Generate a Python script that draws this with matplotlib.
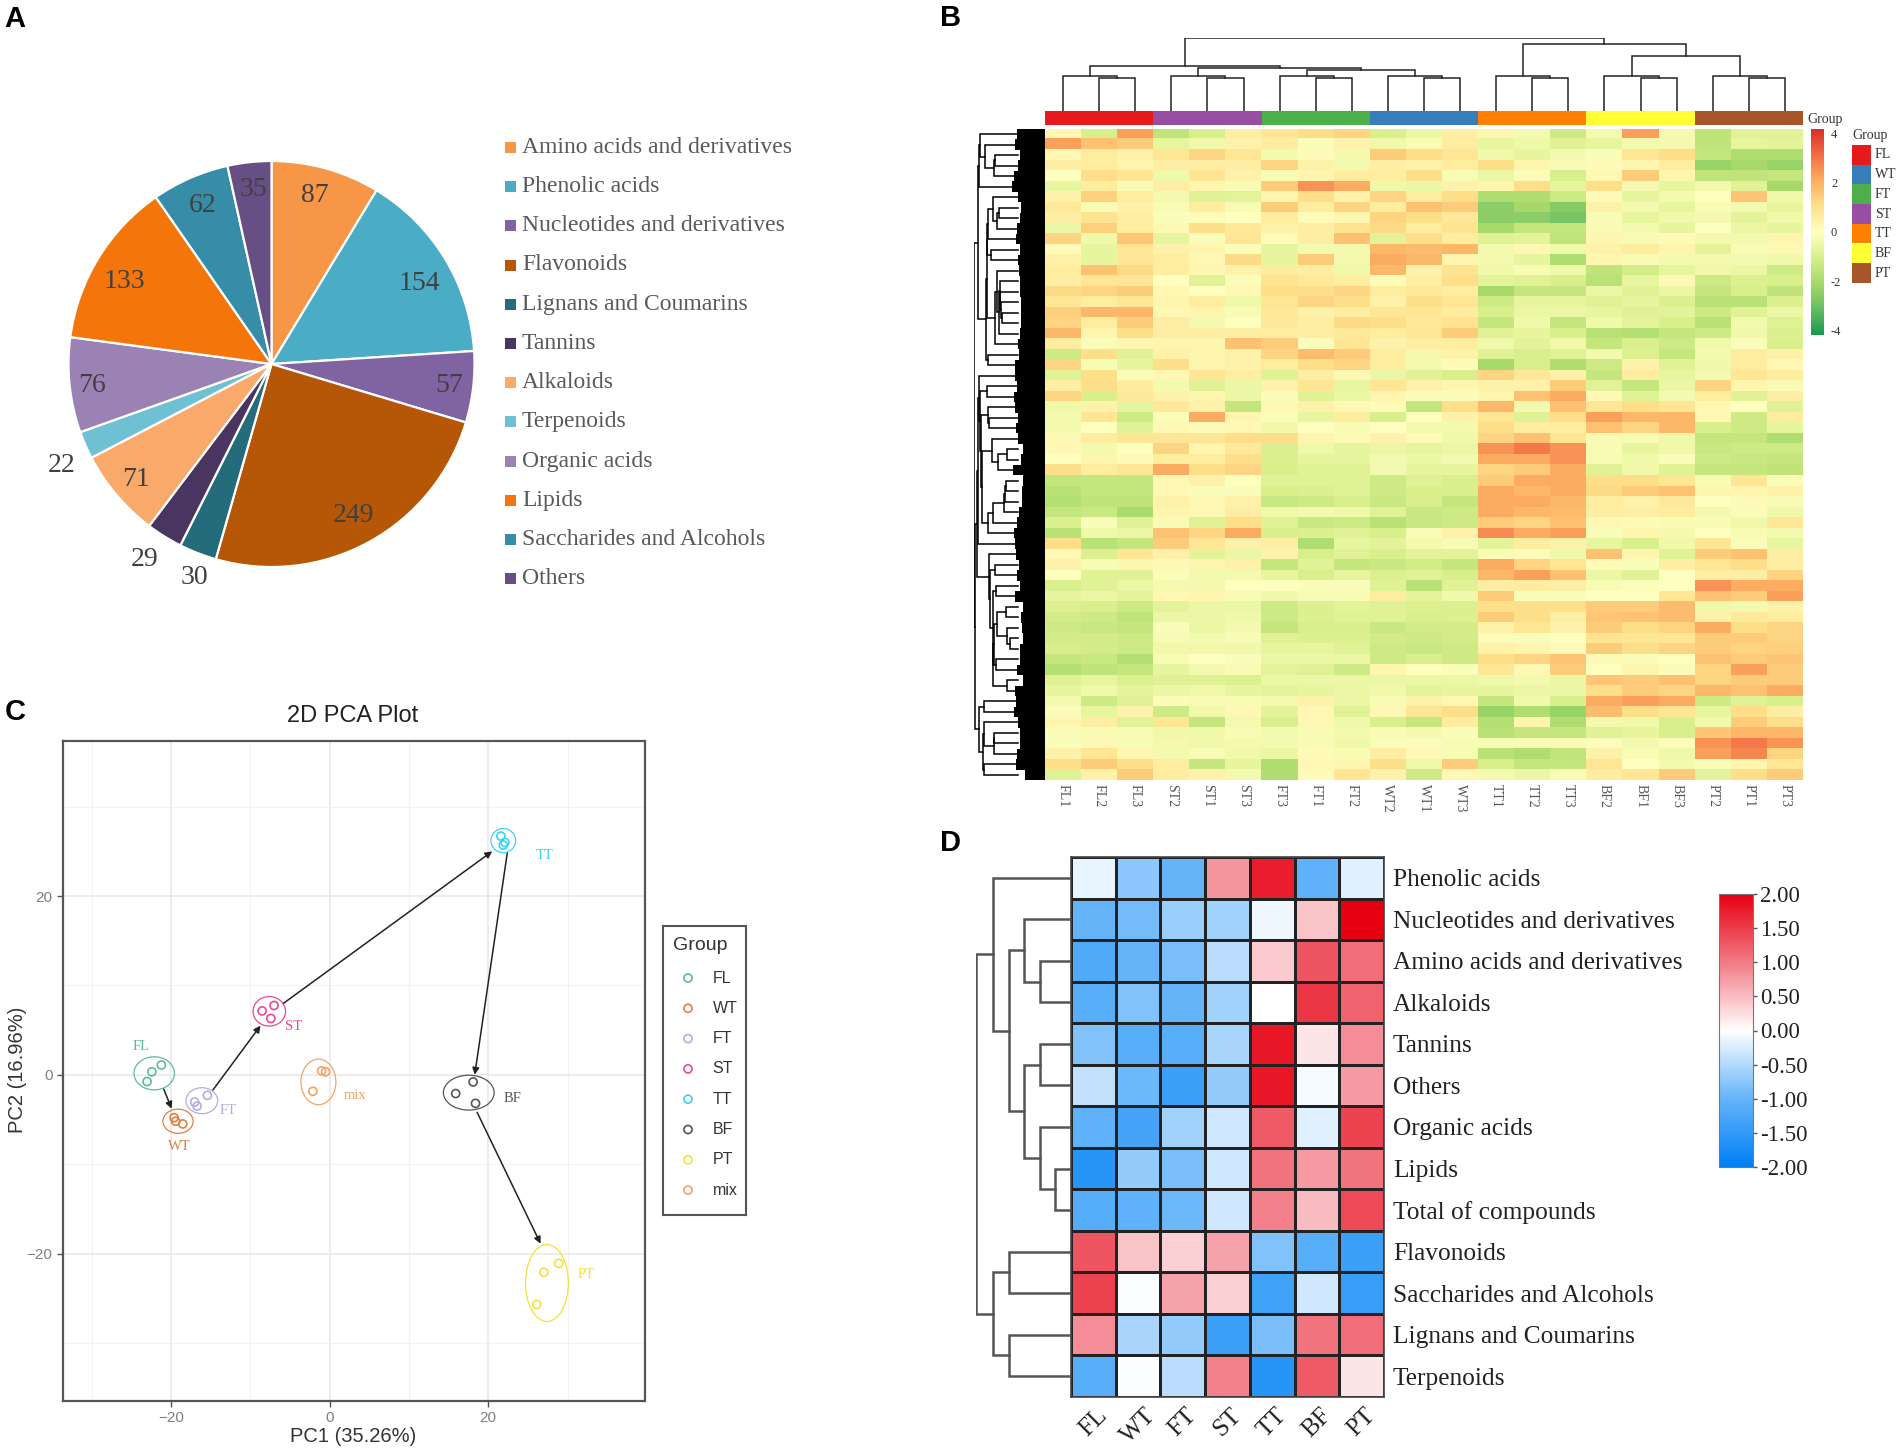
import numpy as np
import matplotlib
matplotlib.use("Agg")
import matplotlib.pyplot as plt
from matplotlib.colors import LinearSegmentedColormap, Normalize
from matplotlib.patches import Ellipse, Rectangle
from matplotlib.cm import ScalarMappable

W, H = 1904, 1455
SERIF = "Liberation Serif"
SANS = "Liberation Sans"

# ---------- Panel A ----------
pie_labels = ["Amino acids and derivatives", "Phenolic acids", "Nucleotides and derivatives",
              "Flavonoids", "Lignans and Coumarins", "Tannins", "Alkaloids", "Terpenoids",
              "Organic acids", "Lipids", "Saccharides and Alcohols", "Others"]
pie_values = [87, 154, 57, 249, 30, 29, 71, 22, 76, 133, 62, 35]
pie_colors = ["#F79646", "#4BACC6", "#8064A2", "#B65708", "#246B7B", "#4A3560",
              "#F9A96A", "#6FC0D2", "#9B82B5", "#F4760A", "#378DA8", "#674F85"]
pie_text_x = [315, 419, 449, 354, 194, 145, 136, 62, 92, 124, 203, 253]
pie_text_y = [196, 283, 385, 515, 578, 559, 479, 465, 385, 282, 205, 189]

# ---------- Panel B ----------
col_labels = ["FL1", "FL2", "FL3", "ST2", "ST1", "ST3", "FT3", "FT1", "FT2", "WT2", "WT1", "WT3",
              "TT1", "TT2", "TT3", "BF2", "BF1", "BF3", "PT2", "PT1", "PT3"]
group_names = ["FL", "WT", "FT", "ST", "TT", "BF", "PT"]
group_colors = ["#E41A1C", "#377EB8", "#4DAF4A", "#984EA3", "#FF7F00", "#FFFF33", "#A65628"]
col_order_groups = ["FL", "ST", "FT", "WT", "TT", "BF", "PT"]
heat_colors = ["#1a9850", "#66bd63", "#a6d96a", "#d9ef8b", "#ffffbf",
               "#fee08b", "#fdae61", "#f46d43", "#d73027"]
# Values, in tenths of the colour-key unit.
heat_tenths = [
 [2,-10,22,-15,-10,5,8,10,12,-10,-5,5,3,-3,-12,-3,22,-3,-15,-8,-8],
 [22,16,14,-6,-4,4,6,-1,4,-4,-2,6,-6,-4,-8,-6,-3,-3,-15,-6,-7],
 [2,6,4,8,12,8,-3,1,-3,14,10,8,-4,-6,-3,-1,8,10,-14,-18,-18],
 [5,6,3,5,5,5,12,4,-3,5,4,6,10,3,-2,1,3,6,-22,-20,-22],
 [0,10,8,-4,8,4,-2,3,6,6,10,-2,-5,1,-10,2,14,3,-15,-15,-14],
 [-6,6,-2,5,3,-2,14,24,20,-4,-5,4,3,10,-6,10,-3,-6,-3,-8,-20],
 [4,13,6,-3,-8,-7,3,10,4,12,6,10,-18,-18,-12,1,-6,-3,0,15,-4],
 [7,-2,4,-2,6,-2,14,6,12,6,16,14,-24,-20,-25,4,-3,-6,-2,-3,-6],
 [5,9,5,-1,1,0,6,1,3,12,10,7,-24,-24,-27,-2,-6,-4,-3,-7,-4],
 [-5,13,6,2,10,7,4,5,9,11,6,9,-20,-14,-14,-2,-3,-6,0,-5,-6],
 [12,-4,15,-6,-1,8,1,5,16,-7,10,6,-8,-7,-15,3,-2,1,-3,-3,3],
 [1,-6,8,4,3,-1,-6,-3,-3,18,17,18,-3,2,-4,4,6,3,-7,-2,2],
 [4,-6,8,6,2,11,-6,14,-3,20,18,3,-3,-6,-18,3,-2,-3,-3,-3,-4],
 [6,16,11,6,3,4,6,5,-4,18,4,9,-4,-2,-4,-15,-11,-6,-4,-5,-12],
 [5,8,8,0,-8,-1,9,7,6,1,5,10,-7,-8,-10,-16,-6,2,-12,-9,-10],
 [11,12,14,2,0,2,10,10,12,6,7,6,-20,-14,-14,-5,-8,-5,-14,-10,-15],
 [8,6,8,3,6,-4,8,12,10,4,10,8,-12,-6,-6,-8,-6,-9,-16,-16,-9],
 [13,18,18,2,3,-2,7,4,5,8,8,6,-10,-5,-5,-6,-8,-7,-12,-8,-5],
 [12,6,14,5,-3,0,7,5,11,10,7,9,-14,-4,-14,-4,-7,-10,-16,-3,-8],
 [18,3,10,5,5,5,6,5,7,6,8,14,-8,-6,-10,-16,-17,-14,-12,-4,-9],
 [6,-1,3,3,3,16,14,-1,8,4,5,6,-4,-7,-4,-14,-10,-12,-4,-1,-10],
 [-12,10,-8,4,3,4,12,17,14,6,-3,4,-8,-10,-8,-3,-9,-14,-3,6,4],
 [12,-2,-6,10,3,4,6,10,12,6,-3,1,-20,-10,-18,-12,4,-8,-4,6,2],
 [-8,10,-1,2,8,5,-8,5,2,-5,-8,-10,12,7,4,-14,6,-6,-3,8,6],
 [5,10,6,-3,-8,-5,4,8,-6,8,4,3,4,4,14,-8,-14,-5,12,3,-2],
 [12,-10,7,4,3,-5,-1,-8,-5,3,-1,-1,3,16,20,2,-8,-3,6,-8,5],
 [-4,4,-6,7,4,-14,2,4,2,1,-14,10,18,-3,16,8,10,8,2,0,-8],
 [-3,8,-12,-1,20,3,-1,-6,6,-10,0,4,8,-8,10,22,18,18,2,-12,6],
 [-3,0,-8,2,1,2,-4,0,-2,0,-3,-3,10,6,6,16,12,18,-10,-12,-6],
 [2,6,8,8,8,10,10,3,1,4,1,-4,12,16,8,-2,-2,-4,-14,-14,-18],
 [2,-3,0,12,3,7,-9,-4,-6,-5,-6,-5,24,28,24,-2,-6,-4,-13,-12,-12],
 [0,3,1,6,6,10,-9,-6,-6,-3,-5,-3,20,20,24,-2,-4,-1,-12,-13,-14],
 [10,6,8,20,10,12,-10,-8,-8,-3,-6,-6,12,14,20,-8,-4,-8,-14,-14,-15],
 [-14,-14,-14,2,4,0,-8,-8,-8,-12,-8,-10,14,20,20,10,10,8,-2,8,-1],
 [-16,-14,-14,2,-1,-1,-10,-9,-8,-12,-10,-10,20,18,20,11,14,16,3,3,4],
 [-17,-15,-15,4,2,4,-13,-12,-10,-13,-10,-14,20,20,18,6,4,7,0,1,-2],
 [-14,-13,-19,3,2,5,-4,-3,-4,-8,-13,-12,20,18,17,5,5,6,-3,-1,-4],
 [-9,-1,-8,-2,-8,10,-8,-13,-12,-16,-13,-12,14,12,16,2,1,-2,-2,-4,8],
 [-16,-4,-5,16,12,20,-10,-9,-8,-10,-1,4,25,20,22,-1,3,-3,0,-2,-3],
 [10,-16,-14,14,8,4,5,-18,-6,-7,-3,-2,-7,6,4,-6,-10,-4,8,-1,-6],
 [2,-9,8,4,-7,-5,4,-10,-8,-10,-7,-7,-2,1,-4,16,3,-8,14,16,5],
 [4,-2,3,2,3,4,-14,-8,-14,-13,-11,-14,20,12,8,1,-1,5,8,10,5],
 [0,-8,-8,-1,-3,-3,-6,-10,-6,-9,-8,-10,18,22,16,-5,-8,0,5,5,12],
 [-10,-8,-5,-3,-3,0,0,-1,-1,-8,-16,-8,5,6,5,-2,-1,0,24,20,20],
 [-6,-5,-7,2,3,-2,-4,-2,-2,6,-7,-4,14,-1,-1,0,0,8,16,14,22],
 [-9,-10,-12,-7,-5,-5,-12,-9,-7,-8,-9,-9,10,10,10,14,14,17,-4,-3,4],
 [-11,-12,-15,-5,-5,-4,-12,-9,-8,-8,-10,-9,14,10,5,15,16,17,4,7,6],
 [-12,-13,-14,-1,-5,-3,-14,-10,-10,-13,-11,-11,4,8,4,14,10,12,20,10,12],
 [-11,-11,-12,-2,-3,-2,-8,-9,-9,-11,-12,-11,1,-1,0,9,8,8,14,14,12],
 [-10,-11,-12,-4,-4,-4,-6,-6,-8,-12,-13,-12,4,3,1,14,10,12,14,12,13],
 [-14,-13,-17,-2,0,-1,-5,-5,-5,-12,-10,-12,10,12,15,1,-1,0,16,14,15],
 [-17,-15,-14,-6,-3,-2,-7,-8,-12,3,0,-1,8,2,14,0,3,-1,12,22,14],
 [-8,-6,-9,-8,-8,-9,-5,-5,-5,-5,-5,-5,-4,-3,-5,15,14,16,12,14,14],
 [-6,-4,-7,-5,-4,-6,-7,-6,-5,-4,-7,-6,-6,-5,-5,10,14,12,18,16,20],
 [-3,-12,-8,1,-2,-2,-3,4,-5,-2,4,2,-14,-4,-10,20,22,20,-12,-8,-10],
 [-1,-6,4,-12,-4,2,-7,2,-8,2,8,10,-22,-18,-22,17,10,8,-6,10,5],
 [3,5,-8,8,-14,-3,-10,2,-4,-10,-14,6,-17,3,-18,-3,-4,-10,-4,14,10],
 [-1,-2,-2,-4,-4,-2,-3,-2,-3,-2,-3,-1,-16,-14,-14,-8,-6,-10,15,18,18],
 [-1,2,-2,-3,-4,-3,-3,-2,-4,-1,-1,-2,-2,-2,-2,-1,-3,-1,24,28,24],
 [4,8,3,-3,-2,-4,-5,1,-2,5,2,-2,-16,-18,-15,4,-2,-4,22,26,12],
 [10,14,10,6,-14,-6,-18,2,3,10,-4,14,-10,-14,-14,8,0,-3,-1,3,8],
 [-8,4,14,6,4,-3,-18,1,8,4,-12,2,-3,-5,-2,6,8,14,-7,10,14],
]
# Column tree: (merge height, child, child); integers are leaf positions.
top_tree = (218,
            (135, (105, 0, (100, 1, 2)),
             (130, (105, 3, (100, 4, 5)),
              (123, (105, 6, (100, 7, 8)), (105, 9, (100, 10, 11))))),
            (201, (105, 12, (100, 13, 14)),
             (165, (105, 15, (100, 16, 17)), (105, 18, (100, 19, 20)))))

# ---------- Panel C ----------
pca_groups = ["FL", "WT", "FT", "ST", "TT", "BF", "PT", "mix"]
pca_colors = ["#5dbb9b", "#e0803f", "#b3aedb", "#e8489a", "#3fd0f0", "#555555", "#f5e03c", "#f4a266"]
pca_x = [[-23.0, -22.4, -21.2], [-19.6, -19.4, -18.5], [-17.0, -16.7, -15.4], [-8.5, -7.0, -7.4],
         [21.6, 22.1, 21.9], [15.9, 18.1, 18.4], [28.9, 27.0, 26.1], [-2.1, -1.0, -0.5]]
pca_y = [[-0.76, 0.33, 1.09], [-4.8, -5.2, -5.5], [-3.05, -3.5, -2.3], [7.15, 7.75, 6.3],
         [26.7, 26.0, 25.7], [-2.1, -0.8, -3.2], [-21.1, -22.1, -25.7], [-1.85, 0.44, 0.33]]
ell_cx = [-22.1, -19.1, -16.1, -7.6, 21.9, 17.55, 27.4, -1.4]
ell_cy = [0.16, -5.2, -2.9, 7.1, 26.2, -2.0, -23.3, -0.8]
ell_w = [5.1, 3.8, 4.0, 4.1, 3.1, 6.4, 5.4, 4.4]
ell_h = [3.7, 2.7, 2.9, 3.3, 2.7, 3.9, 8.6, 5.1]
lab_x = [-23.7, -19.0, -12.8, -4.5, 27.1, 23.1, 32.4, 3.2]
lab_y = [3.2, -8.0, -4.0, 5.4, 24.5, -2.7, -22.4, -2.3]
arrow_from = [(-20.9, -1.6), (-14.7, -1.7), (-5.8, 8.0), (22.4, 24.8), (18.6, -4.2)]
arrow_to = [(-19.9, -3.8), (-8.7, 5.5), (20.5, 25.0), (18.3, 0.0), (26.6, -18.9)]

# ---------- Panel D ----------
d_rows = ["Phenolic acids", "Nucleotides and derivatives", "Amino acids and derivatives", "Alkaloids",
          "Tannins", "Others", "Organic acids", "Lipids", "Total of compounds", "Flavonoids",
          "Saccharides and Alcohols", "Lignans and Coumarins", "Terpenoids"]
d_cols = ["FL", "WT", "FT", "ST", "TT", "BF", "PT"]
d_vals = [[-0.15, -0.75, -1.0, 0.8, 1.75, -1.05, -0.2],
          [-1.0, -0.9, -0.65, -0.6, -0.1, 0.45, 2.0],
          [-1.2, -1.0, -0.85, -0.45, 0.4, 1.3, 1.1],
          [-1.1, -0.8, -1.0, -0.6, 0.0, 1.55, 1.2],
          [-0.8, -1.1, -1.1, -0.55, 1.8, 0.2, 0.85],
          [-0.4, -0.95, -1.4, -0.7, 1.8, -0.05, 0.75],
          [-1.05, -1.3, -0.6, -0.3, 1.25, -0.2, 1.45],
          [-1.6, -0.7, -0.85, -0.3, 1.05, 0.75, 1.05],
          [-1.15, -1.05, -0.95, -0.3, 0.95, 0.5, 1.4],
          [1.3, 0.45, 0.35, 0.7, -0.8, -1.1, -1.4],
          [1.45, -0.02, 0.7, 0.35, -1.35, -0.3, -1.45],
          [0.85, -0.55, -0.7, -1.4, -0.85, 1.05, 1.1],
          [-1.1, -0.03, -0.45, 0.95, -1.6, 1.25, 0.2]]
d_tree = (152,
          (125, 0,
           (100,
            (75, 1, (50, 2, 3)),
            (75, (50, 4, 5), (50, 6, (25, 7, 8))))),
          (125, (100, 9, 10), (100, 11, 12)))


def ax_px(x0, y0, x1, y1, **kw):
    return fig.add_axes([x0 / W, 1 - y1 / H, (x1 - x0) / W, (y1 - y0) / H], **kw)


def tree_segments(node):
    """Return (position, height, segments) for a nested (height, left, right) tree."""
    if not isinstance(node, tuple):
        return node + 0.5, 0.0, []
    h, a, b = node
    pa, ha, sa = tree_segments(a)
    pb, hb, sb = tree_segments(b)
    seg = [[(pa, ha), (pa, h), (pb, h), (pb, hb)]]
    return (pa + pb) / 2, h, sa + sb + seg


fig = plt.figure(figsize=(W / 100, H / 100), dpi=100, facecolor="white")
over = fig.add_axes([0, 0, 1, 1], zorder=20)
over.set_xlim(0, W)
over.set_ylim(H, 0)
over.axis("off")
over.patch.set_alpha(0)

for letter, x, y in [("A", 4, 19), ("B", 940, 18), ("C", 5, 712), ("D", 940, 843)]:
    over.text(x, y, letter, family=SANS, weight="bold", fontsize=21, color="black", ha="left", va="center")

# ---------- A: pie ----------
r = 203
ax = ax_px(271.5 - r, 364 - r, 271.5 + r, 364 + r)
ax.pie(pie_values, colors=pie_colors, startangle=90, counterclock=False, radius=1,
       wedgeprops=dict(edgecolor="white", linewidth=1.6))
ax.set_xlim(-1, 1)
ax.set_ylim(-1, 1)
for v, x, y in zip(pie_values, pie_text_x, pie_text_y):
    over.text(x, y, str(v), family=SERIF, fontsize=20, color="#404040", ha="center", va="center")
for i, (name, c) in enumerate(zip(pie_labels, pie_colors)):
    y = 147.4 + i * 39.2
    over.add_patch(Rectangle((505, y - 5.5), 11, 11, facecolor=c, edgecolor="none"))
    over.text(522, y, name, family=SERIF, fontsize=17, color="#595959", ha="left", va="center")

# ---------- B: heatmap ----------
hm_x0, hm_x1, hm_y0, hm_y1 = 1045, 1803, 129, 780
heat = np.array(heat_tenths) / 10
cmap_b = LinearSegmentedColormap.from_list("b", heat_colors)
ax = ax_px(hm_x0, hm_y0, hm_x1, hm_y1)
ax.imshow(heat, aspect="auto", cmap=cmap_b, vmin=-4, vmax=4, interpolation="nearest")
ax.set_yticks([])
ax.set_xticks(range(21))
ax.set_xticklabels(col_labels, rotation=270, family=SERIF, fontsize=10, color="#555555")
ax.tick_params(axis="x", length=0, pad=3)
for s in ax.spines.values():
    s.set_visible(False)

# annotation strip
ax = ax_px(hm_x0, 111, hm_x1, 125)
ax.set_xlim(0, 7)
ax.set_ylim(0, 1)
ax.axis("off")
for i, g in enumerate(col_order_groups):
    ax.add_patch(Rectangle((i, 0), 1, 1, facecolor=group_colors[group_names.index(g)], edgecolor="none"))
over.text(1807, 119, "Group", family=SERIF, fontsize=10, color="#333333", ha="left", va="center")

# top dendrogram
ax = ax_px(hm_x0, 38, hm_x1, 111)
_, _, segs = tree_segments(top_tree)
for s in segs:
    ax.plot([p[0] for p in s], [p[1] for p in s], color="#222222", lw=1.1, solid_joinstyle="miter")
ax.set_xlim(0, 21)
ax.set_ylim(0, 218 * 1.005)
ax.axis("off")

# left dendrogram: adjacent rows are merged by their distance in the heatmap values
ax = ax_px(974, hm_y0, hm_x0, hm_y1)
n = heat.shape[0]
clusters = [dict(pos=i + 0.5, h=0.0, m=heat[i], k=1) for i in range(n)]
left_segs = []
while len(clusters) > 1:
    d = [np.linalg.norm(clusters[i]["m"] - clusters[i + 1]["m"]) for i in range(len(clusters) - 1)]
    j = int(np.argmin(d))
    a, b = clusters[j], clusters[j + 1]
    h = max(d[j], a["h"] * 1.03, b["h"] * 1.03)
    left_segs.append((a["pos"], a["h"], b["pos"], b["h"], h))
    k = a["k"] + b["k"]
    clusters[j:j + 2] = [dict(pos=(a["pos"] + b["pos"]) / 2, h=h, m=(a["m"] * a["k"] + b["m"] * b["k"]) / k, k=k)]
hmax = clusters[0]["h"]
for pa, ha, pb, hb, h in left_segs:
    ax.plot([ha / hmax, h / hmax, h / hmax, hb / hmax], [pa, pa, pb, pb], color="black", lw=1.1,
            solid_joinstyle="miter")
ax.set_xlim(1.0, -0.6)
ax.set_ylim(n, 0)
ax.axis("off")
# Solid mass of leaf branches; its jagged edge follows how far each row stands from the next one.
row_gap = np.abs(np.diff(heat, axis=0, append=heat[-1:])).mean(axis=1)
edge = 0.30 * row_gap / row_gap.max() - 0.16
ax.fill_betweenx(np.arange(n + 1), np.append(edge, edge[-1]), -0.6, step="post", color="black", lw=0)

# colour key
ax = ax_px(1811, 129, 1824, 335)
fig.colorbar(ScalarMappable(Normalize(-4.18, 4.18), cmap_b), cax=ax, ticks=[-4, -2, 0, 2, 4])
ax.tick_params(length=0, pad=5, labelsize=9, labelcolor="#333333")
ax.set_yticklabels(["-4", "-2", "0", "2", "4"], family=SERIF)
ax.spines["outline"].set_visible(False)

# group key
over.text(1870, 136, "Group", family=SERIF, fontsize=10, color="#333333", ha="center", va="center")
for i, (g, c) in enumerate(zip(group_names, group_colors)):
    y = 145 + i * 19.7
    over.add_patch(Rectangle((1852, y), 19, 19.7, facecolor=c, edgecolor="none"))
    over.text(1875, y + 10, g, family=SERIF, fontsize=10, color="#333333", ha="left", va="center")

# ---------- C: PCA ----------
ax = ax_px(63, 740.5, 644.5, 1401)
ax.set_xlim(-33.6, 39.7)
ax.set_ylim(-36.5, 37.4)
ax.set_xticks([-20, 0, 20])
ax.set_yticks([-20, 0, 20])
ax.set_xticks([-30, -10, 10, 30], minor=True)
ax.set_yticks([-30, -10, 10, 30], minor=True)
ax.grid(True, which="major", color="#ebebeb", lw=1.3)
ax.grid(True, which="minor", color="#f2f2f2", lw=0.8)
ax.set_axisbelow(True)
ax.tick_params(which="major", length=4, color="#555555", labelsize=11, labelcolor="#7f7f7f", width=1)
ax.tick_params(which="minor", length=0)
for s in ax.spines.values():
    s.set_color("#555555")
    s.set_linewidth(1.6)
for t in ax.get_xticklabels() + ax.get_yticklabels():
    t.set_family(SANS)
for i, g in enumerate(pca_groups):
    c = pca_colors[i]
    ax.scatter(pca_x[i], pca_y[i], s=34, facecolor="none", edgecolor=c, linewidth=1.2, zorder=3)
    ax.add_patch(Ellipse((ell_cx[i], ell_cy[i]), ell_w[i], ell_h[i], facecolor="none", edgecolor=c, lw=0.9, zorder=3))
    ax.text(lab_x[i], lab_y[i], g, family=SERIF, fontsize=10.5, color=c, ha="center", va="center")
for a, b in zip(arrow_from, arrow_to):
    ax.annotate("", xy=b, xytext=a,
                arrowprops=dict(arrowstyle="-|>", color="#222222", lw=1.1, mutation_scale=10, shrinkA=0, shrinkB=0))
over.text(353, 716, "2D PCA Plot", family=SANS, fontsize=17, color="#222222", ha="center", va="center")
over.text(353, 1436, "PC1 (35.26%)", family=SANS, fontsize=14.5, color="#333333", ha="center", va="center")
over.text(18, 1070, "PC2 (16.96%)", family=SANS, fontsize=14.5, color="#333333", rotation=90, ha="center", va="center")

# legend box
lg = ax_px(663, 926, 746, 1215)
lg.set_xlim(663, 746)
lg.set_ylim(1215, 926)
lg.set_xticks([])
lg.set_yticks([])
for s in lg.spines.values():
    s.set_color("#555555")
    s.set_linewidth(1.5)
lg.text(673, 945, "Group", family=SANS, fontsize=14, color="#333333", ha="left", va="center")
for i, (g, c) in enumerate(zip(pca_groups, pca_colors)):
    y = 978 + i * 30.3
    lg.scatter([688], [y], s=34, facecolor="none", edgecolor=c, linewidth=1.2)
    lg.text(712.5, y, g, family=SANS, fontsize=11.5, color="#333333", ha="left", va="center")

# ---------- D: heatmap ----------
cmap_d = LinearSegmentedColormap.from_list(
    "d", [(0, "#0080f5"), (0.25, "#64b4fa"), (0.5, "#ffffff"), (0.75, "#f27a85"), (1, "#e60012")])
ax = ax_px(1071, 857, 1384, 1397)
vals = np.array(d_vals)
ax.pcolormesh(vals, cmap=cmap_d, vmin=-2, vmax=2, edgecolors="#222222", linewidth=0.8)
ax.set_ylim(13, 0)
ax.set_xlim(0, 7)
ax.yaxis.tick_right()
ax.set_yticks(np.arange(13) + 0.5)
ax.set_yticklabels(d_rows, family=SERIF, fontsize=18.3, color="#222222")
ax.set_xticks(np.arange(7) + 0.5)
ax.set_xticklabels(d_cols, family=SERIF, fontsize=18, color="#222222", rotation=45, ha="center")
ax.tick_params(length=0)
ax.tick_params(axis="y", pad=6.5)
ax.tick_params(axis="x", pad=5)
for s in ax.spines.values():
    s.set_color("#444444")
    s.set_linewidth(1.2)

ax = ax_px(976.5, 857, 1071, 1397)
_, _, segs = tree_segments(d_tree)
for s in segs:
    ax.plot([p[1] for p in s], [p[0] for p in s], color="#555555", lw=1.8, solid_joinstyle="miter")
ax.set_xlim(152, 0)
ax.set_ylim(13, 0)
ax.axis("off")

ax = ax_px(1719, 894, 1753, 1167)
cb = fig.colorbar(ScalarMappable(Normalize(-2, 2), cmap_d), cax=ax, ticks=np.arange(-2, 2.01, 0.5))
ax.tick_params(length=3, width=1, color="#555555", pad=2, labelsize=16.5, labelcolor="#222222")
ax.set_yticklabels([f"{v:.2f}" for v in np.arange(-2, 2.01, 0.5)], family=SERIF)
cb.outline.set_edgecolor("#777777")

fig.savefig("out.png", dpi=100)
